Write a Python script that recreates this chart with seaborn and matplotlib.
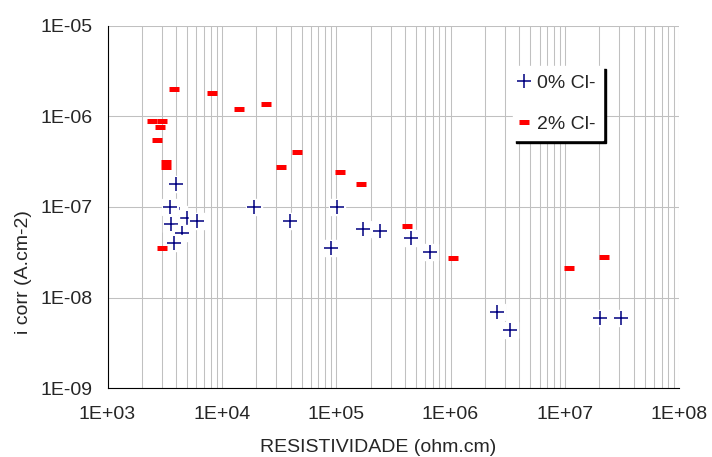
import matplotlib
matplotlib.use("Agg")
import matplotlib.pyplot as plt
import seaborn as sns
from matplotlib.lines import Line2D
from matplotlib.ticker import FixedLocator, FuncFormatter, LogLocator, NullLocator, NullFormatter

# 0% Cl- series (order kept so the white marker boxes overlap like the original)
res_0 = [4.2e3, 3.95e3, 3.51e3, 4.93e3, 6.04e3, 3.57e3, 4.47e3, 3.80e3,
         1.90e4, 3.93e4, 1.01e5, 8.98e4, 1.71e5, 2.40e5, 4.49e5, 6.58e5,
         2.53e6, 3.29e6, 2.01e7, 3.07e7]
icorr_0 = [8.4e-8, 1.79e-7, 1.0e-7, 7.56e-8, 7.0e-8, 6.5e-8, 5.16e-8, 4.0e-8,
           1.0e-7, 7.0e-8, 1.0e-7, 3.53e-8, 5.7e-8, 5.43e-8, 4.55e-8, 3.19e-8,
           6.95e-9, 4.4e-9, 5.96e-9, 5.96e-9]

# 2% Cl- series
res_2 = [2.44e3, 2.98e3, 2.87e3, 2.70e3, 3.23e3, 3.23e3, 3.80e3, 2.98e3,
         8.17e3, 1.41e4, 2.42e4, 3.27e4, 4.52e4, 1.07e5, 1.64e5, 4.13e5,
         1.06e6, 1.08e7, 2.18e7]
icorr_2 = [8.9e-7, 8.9e-7, 7.6e-7, 5.5e-7, 3.13e-7, 2.76e-7, 2.0e-6, 3.53e-8,
           1.81e-6, 1.21e-6, 1.37e-6, 2.76e-7, 4.04e-7, 2.43e-7, 1.79e-7, 6.17e-8,
           2.74e-8, 2.12e-8, 2.81e-8]

x_ticks = [1e3, 1e4, 1e5, 1e6, 1e7, 1e8]
y_ticks = [1e-9, 1e-8, 1e-7, 1e-6, 1e-5]
labels = ["0% Cl-", "2% Cl-"]

blue = "#000080"
red = "#ff0000"
fs = 14

sns.set_theme(style="white")
plt.rcParams["font.family"] = ["Liberation Sans", "DejaVu Sans"]

fig = plt.figure(figsize=(7.12, 4.57), dpi=100)
ax = fig.add_axes([0.151, 0.1503, 0.803, 0.7935])
ax.set_xscale("log")
ax.set_yscale("log")

# Blue crosses with a white box behind each one
for x, y in zip(res_0, icorr_0):
    ax.plot(x, y, marker="s", ms=11.5, color="white", mec="white", zorder=3)
    ax.plot(x, y, marker="+", ms=9.5, mew=1.1, color=blue, zorder=3)

# Red dashes
sns.scatterplot(x=res_2, y=icorr_2, marker="_", s=6.5 ** 2, linewidth=3.6,
                color=red, ax=ax, zorder=4)

ax.set_xlim(1e3, 1e8)
ax.set_ylim(1e-9, 1e-5)

# Ticks and grid
ax.xaxis.set_major_locator(FixedLocator(x_ticks))
ax.yaxis.set_major_locator(FixedLocator(y_ticks))
ax.xaxis.set_minor_locator(LogLocator(base=10, subs=range(2, 10)))
ax.xaxis.set_minor_formatter(NullFormatter())
ax.yaxis.set_minor_locator(NullLocator())
fmt = FuncFormatter(lambda v, p: f"{v:.0E}")
ax.xaxis.set_major_formatter(fmt)
ax.yaxis.set_major_formatter(fmt)

ax.grid(True, which="both", axis="x", color="#c0c0c0", lw=0.75)
ax.grid(True, which="major", axis="y", color="#c0c0c0", lw=0.75)
ax.set_axisbelow(True)

ax.tick_params(which="major", direction="inout", length=7, width=0.8,
               color="black", labelsize=fs)
ax.tick_params(axis="x", which="major", pad=9)
ax.tick_params(axis="y", which="major", pad=7)
ax.tick_params(which="minor", length=0)

for side in ["top", "right"]:
    ax.spines[side].set_visible(False)
for side in ["left", "bottom"]:
    ax.spines[side].set_color("black")
    ax.spines[side].set_linewidth(0.8)

ax.set_xlabel("RESISTIVIDADE (ohm.cm)", fontsize=fs)
ax.set_ylabel("i corr (A.cm-2)", fontsize=fs, labelpad=6)
ax.xaxis.set_label_coords(0.473, -0.14)
ax.yaxis.label.set_y(0.321)

# Legend
handles = [
    Line2D([], [], ls="none", marker="+", ms=9.5, mew=1.1, color=blue, label=labels[0]),
    Line2D([], [], ls="none", marker="_", ms=6.5, mew=3.6, color=red, label=labels[1]),
]
ax.legend(handles=handles, loc="upper left", bbox_to_anchor=(0.709, 0.888),
          borderaxespad=0, frameon=True, fancybox=False, edgecolor="white",
          framealpha=1, shadow={"color": "black", "alpha": 1}, fontsize=fs,
          labelspacing=1.2, handlelength=0.3, handletextpad=0.55, borderpad=0.4)

fig.savefig("out.png", dpi=100)
